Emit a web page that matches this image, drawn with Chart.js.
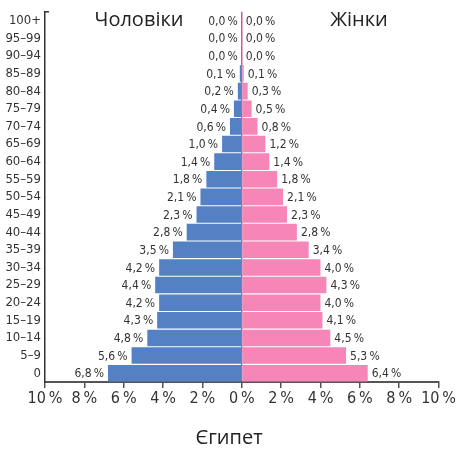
<!DOCTYPE html>
<html>
<head>
<meta charset="utf-8">
<script src="https://cdn.jsdelivr.net/npm/chart.js@4"></script>
<style>
  html, body { margin: 0; padding: 0; background: #fff; }
  #wrap { width: 457px; height: 451px; }
</style>
</head>
<body>
<div id="wrap"><canvas id="pyramid" width="457" height="451"></canvas></div>
<script>
// age groups, top to bottom
var ages = ["100+", "95–99", "90–94", "85–89", "80–84", "75–79", "70–74", "65–69", "60–64",
    "55–59", "50–54", "45–49", "40–44", "35–39", "30–34", "25–29", "20–24", "15–19",
    "10–14", "5–9", "0"];
var men = [0.0, 0.0, 0.0, 0.1, 0.2, 0.4, 0.6, 1.0, 1.4, 1.8, 2.1, 2.3, 2.8, 3.5, 4.2, 4.4, 4.2, 4.3, 4.8, 5.6, 6.8];
var women = [0.0, 0.0, 0.0, 0.1, 0.3, 0.5, 0.8, 1.2, 1.4, 1.8, 2.1, 2.3, 2.8, 3.4, 4.0, 4.3, 4.0, 4.1, 4.5, 5.3, 6.4];
var xTicks = [-10, -8, -6, -4, -2, 0, 2, 4, 6, 8, 10];

var narrow = "'Liberation Sans Narrow', 'DejaVu Sans Condensed', sans-serif";
var regular = "'Open Sans', 'Noto Sans', sans-serif";

function pct(v) {
    return v.toFixed(1).replace(".", ",") + "\u2009%";
}

// value labels next to bar ends + headings
var labelsPlugin = {
    id: "pyramidLabels",
    afterDatasetsDraw: function(chart) {
        var c = chart.ctx;
        c.save();
        c.font = "12px " + narrow;
        c.fillStyle = "#333";
        c.textBaseline = "middle";
        chart.getDatasetMeta(0).data.forEach(function(bar, i) {
            c.textAlign = "right";
            c.fillText(pct(men[i]), bar.x - 4, bar.y + 1);
        });
        chart.getDatasetMeta(1).data.forEach(function(bar, i) {
            c.textAlign = "left";
            c.fillText(pct(women[i]), bar.x + 4, bar.y + 1);
        });
        c.font = "20px " + regular;
        c.fillStyle = "#222";
        c.textAlign = "center";
        c.fillText("Чоловіки", 139, 20);
        c.fillText("Жінки", 359, 20);
        c.fillText("Єгипет", 229, 438);
        // small tick at top of y axis
        var a = chart.chartArea;
        c.strokeStyle = "#333";
        c.lineWidth = 1.5;
        c.beginPath();
        c.moveTo(a.left, a.top);
        c.lineTo(a.left + 4, a.top);
        c.stroke();
        c.restore();
    }
};

new Chart(document.getElementById("pyramid"), {
    type: "bar",
    data: {
        labels: ages,
        datasets: [
            {
                label: "Чоловіки",
                data: men.map(function(v) { return -v; }),
                backgroundColor: "rgb(84,128,196)",
            },
            {
                label: "Жінки",
                data: women,
                backgroundColor: "rgb(246,134,184)",
            }
        ]
    },
    options: {
        indexAxis: "y",
        responsive: false,
        animation: false,
        layout: { padding: { top: 7, right: 15, bottom: 39, left: 0 } },
        datasets: {
            bar: { categoryPercentage: 1.0, barPercentage: 0.94 }
        },
        plugins: {
            legend: { display: false },
            tooltip: { enabled: false },
        },
        scales: {
            x: {
                stacked: true,
                min: -10,
                max: 10,
                afterBuildTicks: function(scale) {
                    scale.ticks = xTicks.map(function(v) { return { value: v }; });
                },
                afterFit: function(scale) { scale.height = 30; },
                border: { color: "#555", width: 2 },
                grid: {
                    color: function(ctx) {
                        return ctx.tick && ctx.tick.value === 0 ? "rgb(200,90,160)" : "rgba(0,0,0,0)";
                    },
                    lineWidth: 1.5,
                    tickColor: "#555",
                    tickLength: 6,
                },
                ticks: {
                    color: "#333",
                    font: { family: narrow, size: 16 },
                    padding: 1,
                    maxRotation: 0,
                    autoSkip: false,
                    callback: function(v) { return Math.abs(v) + "\u2009%"; }
                }
            },
            y: {
                stacked: true,
                afterFit: function(scale) { scale.width = 45; },
                border: { color: "#333", width: 1.5 },
                grid: { display: false, drawTicks: false },
                ticks: {
                    color: "#333",
                    font: { family: narrow, size: 13 },
                    padding: 4,
                    autoSkip: false,
                }
            }
        }
    },
    plugins: [labelsPlugin]
});
</script>
</body>
</html>
